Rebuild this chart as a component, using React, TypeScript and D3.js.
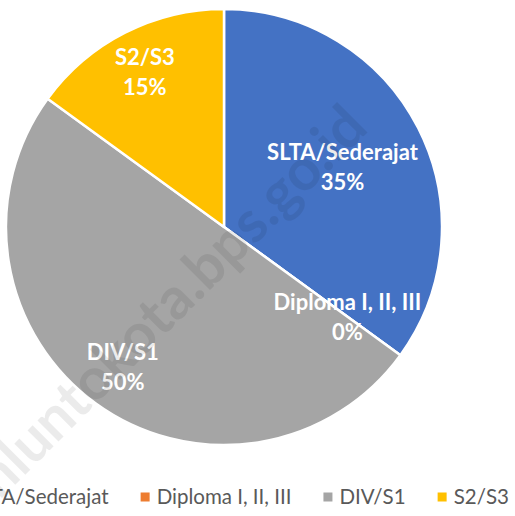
import React, { useEffect, useRef } from 'react'
import * as d3 from 'd3'

const categories = ['SLTA/Sederajat', 'Diploma I, II, III', 'DIV/S1', 'S2/S3']
const shares = [35, 0, 50, 15]
const percentLabels = ['35%', '0%', '50%', '15%']
const sliceColors = ['#4472C4', '#ED7D31', '#A5A5A5', '#FFC000']
const watermark = 'sawahluntokota.bps.go.id'

// how far out (fraction of radius) each data label sits
const labelRadius = [0.61, 0.7, 0.79, 0.8]

const W = 515
const H = 516

export default function App() {
    const svgRef = useRef<SVGSVGElement>(null)

    useEffect(() => {
        var svg = d3.select(svgRef.current)
        svg.selectAll("*").remove()

        var cx = 224, cy = 227, r = 218

        var pie = d3.pie<number>().sort(null).value(d => d)
        var arcs = pie(shares)
        var arc = d3.arc<d3.PieArcDatum<number>>().innerRadius(0).outerRadius(r)

        var g = svg.append("g").attr("transform", "translate(" + cx + "," + cy + ")")

        g.selectAll("path.slice")
            .data(arcs)
            .enter()
            .append("path")
            .attr("class", "slice")
            .attr("d", arc)
            .attr("fill", (d, i) => sliceColors[i])
            .attr("stroke", "white")
            .attr("stroke-width", 2.5)
            .attr("stroke-linejoin", "round")

        // watermark sits between slices and labels
        svg.append("text")
            .attr("transform", "translate(370,130) rotate(-45)")
            .attr("text-anchor", "end")
            .style("font", "bold 58px Lato")
            .attr("fill", "rgba(0,0,0,0.08)")
            .text(watermark)

        arcs.forEach((d, i) => {
            var lr = r * labelRadius[i]
            var pos = d3.arc<d3.PieArcDatum<number>>().innerRadius(lr).outerRadius(lr).centroid(d)
            var t = g.append("text")
                .attr("x", pos[0])
                .attr("y", pos[1])
                .attr("text-anchor", "middle")
                .attr("fill", "white")
                .style("font", "bold 22px Lato")
            t.append("tspan").attr("x", pos[0]).attr("dy", "-0.3em").text(categories[i])
            t.append("tspan").attr("x", pos[0]).attr("dy", "1.36em").text(percentLabels[i])
        })

        // legend, centred under the chart
        var legend = svg.append("g").attr("transform", "translate(0,497)")
        var items = categories.map((c, i) => {
            var it = legend.append("g")
            it.append("rect").attr("width", 9).attr("height", 9).attr("y", -4.5).attr("fill", sliceColors[i])
            var txt = it.append("text")
                .attr("x", 16)
                .attr("dy", "0.35em")
                .attr("fill", "#595959")
                .style("font", "20.5px Lato")
                .text(c)
            var tw = (txt.node() as SVGTextElement).getComputedTextLength()
            return { it, w: 16 + tw }
        })
        var gap = 32
        var total = d3.sum(items, d => d.w) + gap * (items.length - 1)
        var x = 232 - total / 2
        items.forEach(d => {
            d.it.attr("transform", "translate(" + x + ",0)")
            x += d.w + gap
        })
    }, [])

    return (
        <svg ref={svgRef} width={W} height={H} style={{ position: 'absolute', left: 0, top: 0, background: 'white' }} />
    )
}
